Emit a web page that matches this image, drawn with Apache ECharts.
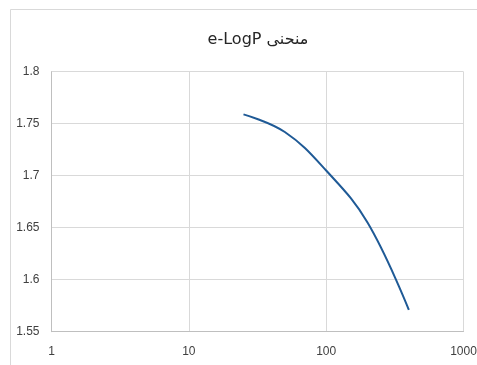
<!DOCTYPE html>
<html>
<head>
<meta charset="utf-8">
<script src="https://cdn.jsdelivr.net/npm/echarts@6/dist/echarts.min.js"></script>
<style>html,body{margin:0;padding:0;background:#fff;}#c{width:477px;height:365px;}</style>
</head>
<body>
<div id="c"></div>
<script>
var titleText = 'e-LogP منحنى';
var xValues = [25, 50, 100, 200, 400];
var yValues = [1.759, 1.742, 1.705, 1.655, 1.571];
var yMin = 1.55, yMax = 1.8, yStep = 0.05;
var xMin = 1, xMax = 1000;

var chart = echarts.init(document.getElementById('c'), null, {renderer: 'canvas'});
chart.setOption({
  animation: false,
  backgroundColor: '#ffffff',
  title: {
    text: titleText,
    left: 253, top: 27, textAlign: 'center',
    textStyle: {fontFamily: 'DejaVu Sans, Liberation Sans', fontSize: 16, fontWeight: 'normal', color: '#262626'}
  },
  graphic: [{
    type: 'polyline', silent: true,
    shape: {points: [[10.5, 400], [10.5, 9.5], [500, 9.5]]},
    style: {stroke: '#d9d9d9', lineWidth: 1, fill: null}
  }],
  grid: {left: 51.5, right: 13.5, top: 71.7, bottom: 33.3, containLabel: false, outerBoundsMode: 'none'},
  xAxis: {
    type: 'log', logBase: 10, min: xMin, max: xMax,
    axisLine: {show: true, lineStyle: {color: '#bfbfbf'}},
    axisTick: {show: false},
    minorTick: {show: false},
    splitLine: {show: true, lineStyle: {color: '#d9d9d9', width: 1}},
    axisLabel: {color: '#404040', fontSize: 12, fontFamily: 'Liberation Sans, DejaVu Sans', margin: 14,
      formatter: function (v) { return String(Math.round(v)); }}
  },
  yAxis: {
    type: 'value', min: yMin, max: yMax, interval: yStep,
    axisLine: {show: true, lineStyle: {color: '#bfbfbf'}},
    axisTick: {show: false},
    splitLine: {show: true, lineStyle: {color: '#d9d9d9', width: 1}},
    axisLabel: {color: '#404040', fontSize: 12, fontFamily: 'Liberation Sans, DejaVu Sans', margin: 12,
      formatter: function (v) { return String(parseFloat(v.toFixed(2))); }}
  },
  series: [{
    type: 'line',
    data: xValues.map(function (x, i) { return [x, yValues[i]]; }),
    smooth: 0.4,
    showSymbol: false,
    lineStyle: {color: '#1f5a96', width: 2}
  }]
});
</script>
</body>
</html>
